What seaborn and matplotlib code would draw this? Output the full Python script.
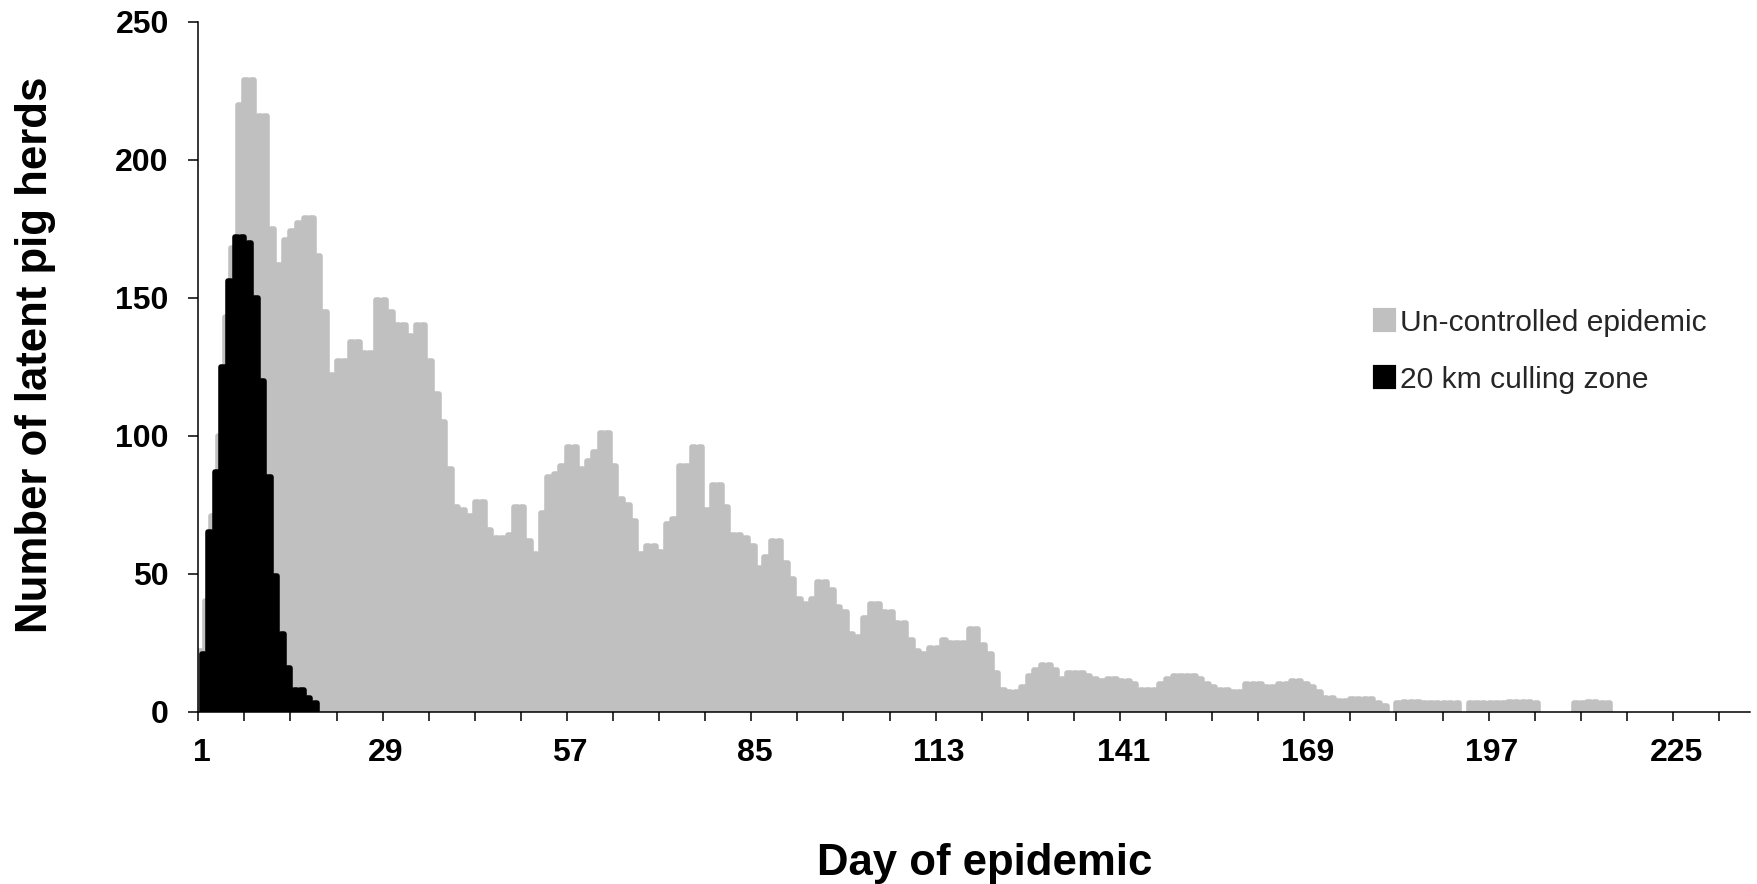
import numpy as np
import pandas as pd
import matplotlib
matplotlib.use("Agg")
import matplotlib.pyplot as plt
from matplotlib.patches import Patch
import seaborn as sns

sns.set_theme(style="white")
plt.rcParams["font.family"] = ["Liberation Sans", "DejaVu Sans"]

# Latent pig herds per day (day 1 onwards)
uncontrolled = [
    22, 40, 71, 100, 143, 168, 220, 229, 229, 216,
    216, 175, 162, 171, 174, 177, 179, 179, 165, 145,
    122, 127, 127, 134, 134, 130, 130, 149, 149, 145,
    140, 140, 136, 140, 140, 127, 115, 105, 88, 74,
    73, 71, 76, 76, 66, 63, 63, 64, 74, 74,
    62, 57, 72, 85, 86, 89, 96, 96, 88, 91,
    94, 101, 101, 89, 77, 75, 69, 57, 60, 60,
    58, 68, 70, 89, 89, 96, 96, 73, 82, 82,
    74, 64, 64, 63, 60, 52, 56, 62, 62, 54,
    48, 41, 39, 41, 47, 47, 44, 38, 36, 28,
    27, 34, 39, 39, 36, 36, 32, 32, 26, 22,
    21, 23, 23, 26, 25, 25, 25, 30, 30, 24,
    21, 14, 8, 7, 7, 9, 13, 15, 17, 17,
    15, 12, 14, 14, 14, 13, 12, 11, 12, 12,
    11, 11, 10, 8, 8, 8, 10, 12, 13, 13,
    13, 13, 12, 10, 9, 8, 8, 7, 7, 10,
    10, 10, 9, 9, 10, 10, 11, 11, 10, 9,
    7, 5, 5, 4, 4, 4.5, 4.5, 4.5, 4.5, 3,
    2, 0, 3, 3.5, 3.5, 3.5, 3, 3, 3, 3,
    3, 3, 0, 3, 3, 3, 3, 3, 3, 3.5,
    3.5, 3.5, 3.5, 3, 0, 0, 0, 0, 0, 3,
    3, 3.5, 3.5, 3, 3,
]
culling_20km = [21, 65, 87, 125, 156, 172, 172, 170, 150, 120,
                85, 49, 28, 16, 8, 8, 5, 3]

series_names = ["Un-controlled epidemic", "20 km culling zone"]
series_colors = ["#c0c0c0", "#000000"]
label_days = [1, 29, 57, 85, 113, 141, 169, 197, 225]
y_ticks = [0, 50, 100, 150, 200, 250]

df = pd.concat([
    pd.DataFrame({"day": np.arange(1, len(uncontrolled) + 1),
                  "herds": uncontrolled, "scenario": series_names[0]}),
    pd.DataFrame({"day": np.arange(1, len(culling_20km) + 1),
                  "herds": culling_20km, "scenario": series_names[1]}),
])
df = df[df["herds"] > 0]

W, H = 1757, 884
fig = plt.figure(figsize=(W / 100, H / 100), dpi=100)
ax = fig.add_axes([198.3 / W, 1 - 711.7 / H, 1551.7 / W, 690 / H])

sns.barplot(data=df, x="day", y="herds", hue="scenario", hue_order=series_names,
            palette=dict(zip(series_names, series_colors)), native_scale=True,
            width=1.0, dodge=True, errorbar=None, legend=False, linewidth=0, ax=ax)

# thick outline with round joins gives the rounded bar tops
for bar in ax.patches:
    bar.set_edgecolor(bar.get_facecolor())
    bar.set_linewidth(4.0)
    bar.set_joinstyle("round")

ax.set_xlim(0.5, 236.2)
ax.set_ylim(0, 250)
ax.set_yticks(y_ticks)
ax.set_xticks(label_days)
ax.set_xticklabels([str(d) for d in label_days])
ax.set_xticks(np.arange(0.5, 236, 7), minor=True)

ax.tick_params(axis="x", which="major", bottom=True, length=0, pad=19, labelsize=23)
ax.tick_params(axis="x", which="minor", bottom=True, length=6.5, width=1.1,
               color="black", direction="out")
ax.tick_params(axis="y", left=True, length=7.2, width=1.1, color="black",
               direction="out", pad=14, labelsize=23)
for lbl in ax.get_xticklabels() + ax.get_yticklabels():
    lbl.set_fontweight("bold")
    lbl.set_color("black")

for side in ["top", "right"]:
    ax.spines[side].set_visible(False)
for side in ["left", "bottom"]:
    ax.spines[side].set_color("black")
    ax.spines[side].set_linewidth(1.1)
ax.grid(False)

ax.set_xlabel("Day of epidemic", fontsize=31.5, fontweight="bold", color="black")
ax.set_ylabel("Number of latent pig herds", fontsize=31.5, fontweight="bold", color="black")
ax.xaxis.set_label_coords(0.5065, -0.19)
ax.yaxis.set_label_coords(-0.0918, 0.517)

handles = [Patch(facecolor=c, edgecolor=c, linewidth=3, joinstyle="round", label=n)
           for n, c in zip(series_names, series_colors)]
fig.legend(handles=handles, loc="upper left", bbox_to_anchor=(1374.5 / W, 1 - 309 / H),
           frameon=False, fontsize=21.6, handlelength=0.65, handleheight=0.65,
           handletextpad=0.2, labelspacing=0.96, borderpad=0, borderaxespad=0)

fig.savefig("out.png", dpi=100)
